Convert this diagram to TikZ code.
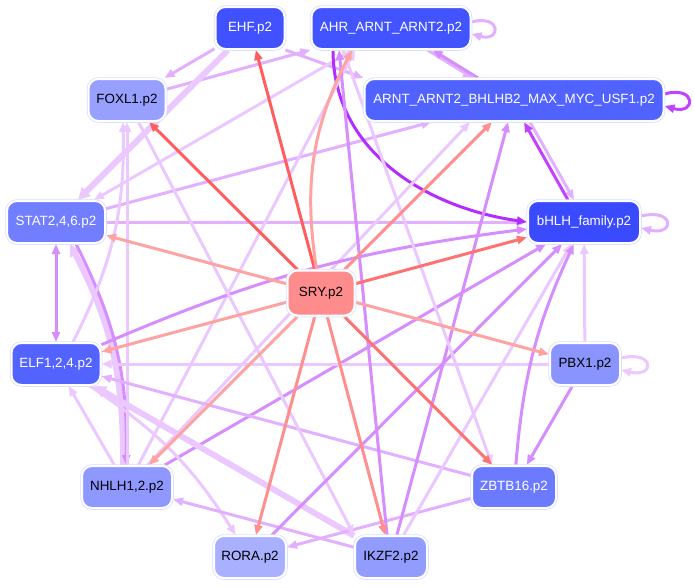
\documentclass[tikz,border=0pt]{standalone}
\usepackage{fontspec}
\setmainfont{Liberation Sans}
\usepackage{tikz}
\usetikzlibrary{arrows.meta}
\usetikzlibrary{backgrounds}

\definecolor{ringblue}{HTML}{D8DCFF}
\definecolor{ehfc}{HTML}{4151FF}
\definecolor{ahrc}{HTML}{4254FF}
\definecolor{arntc}{HTML}{5062FF}
\definecolor{bhlhc}{HTML}{3A4AFF}
\definecolor{foxc}{HTML}{98A0FF}
\definecolor{statc}{HTML}{707EFF}
\definecolor{elfc}{HTML}{5263FF}
\definecolor{pbxc}{HTML}{8A94FF}
\definecolor{nhlhc}{HTML}{8E98FF}
\definecolor{zbtbc}{HTML}{6C7AFF}
\definecolor{rorac}{HTML}{A8B0FF}
\definecolor{ikzfc}{HTML}{929CFF}
\definecolor{sryc}{HTML}{FF8C8C}
\definecolor{rA}{HTML}{FF5E5E}
\definecolor{rB}{HTML}{FF7272}
\definecolor{rC}{HTML}{FF8E8E}
\definecolor{rD}{HTML}{FFA2A2}
\definecolor{pdark}{HTML}{B22EFF}
\definecolor{pdeep}{HTML}{C044FF}
\definecolor{pmid}{HTML}{D68EFF}
\definecolor{plight}{HTML}{E2B0FF}
\definecolor{ppale}{HTML}{EBC8FF}

\begin{document}
\begin{tikzpicture}[x=1pt, y=1pt,
        >={Triangle[length=10pt,width=8pt]},
        tf/.style={rounded corners=10pt, draw=white, line width=2pt,
            preaction={draw=ringblue, line width=3.5pt},
            minimum height=42pt, inner sep=2pt, font=\fontsize{13.4}{15}\selectfont},
        tfw/.style={tf, text=white},
        ed/.style={line width=3pt, ->},
        fat/.style={line width=6pt, -{Triangle[length=12pt,width=12pt]}}]
        \useasboundingbox (0,0) rectangle (694,-587);

        % Draw the factors
        \node[tfw, fill=ehfc, minimum width=69pt] (ehf) at (250,-28) {EHF.p2};
        \node[tfw, fill=ahrc, minimum width=159pt] (ahr) at (391,-28) {AHR\_ARNT\_ARNT2.p2};
        \node[tf, fill=foxc, minimum width=77pt] (foxl) at (127,-100) {FOXL1.p2};
        \node[tfw, fill=arntc, minimum width=299pt] (arnt) at (514,-100) {ARNT\_ARNT2\_BHLHB2\_MAX\_MYC\_USF1.p2};
        \node[tfw, fill=statc, minimum width=98pt] (stat) at (56,-222) {STAT2,4,6.p2};
        \node[tfw, fill=bhlhc, minimum width=112pt] (bhlh) at (584,-222) {bHLH\_family.p2};
        \node[tf, fill=sryc, minimum width=67pt, minimum height=45pt] (sry) at (321,-293) {SRY.p2};
        \node[tfw, fill=elfc, minimum width=89pt] (elf) at (56,-364) {ELF1,2,4.p2};
        \node[tf, fill=pbxc, minimum width=70pt] (pbx) at (585,-364) {PBX1.p2};
        \node[tf, fill=nhlhc, minimum width=90pt] (nhlh) at (127,-487) {NHLH1,2.p2};
        \node[tfw, fill=zbtbc, minimum width=84pt] (zbtb) at (514,-487) {ZBTB16.p2};
        \node[tf, fill=rorac, minimum width=72pt] (rora) at (250,-557) {RORA.p2};
        \node[tf, fill=ikzfc, minimum width=72pt] (ikzf) at (391,-557) {IKZF2.p2};

        \begin{scope}[on background layer]
        % Draw the purple links
        \draw[ed, plight] (ehf) -- (foxl);
        \draw[ed, plight] (foxl) -- (ahr);
        \draw[ed, plight] (ehf.south east) -- (arnt.north west);
        \draw[fat, ppale] (ehf) -- (stat);
        \draw[ed, ppale] (ahr) -- (stat);
        \draw[ed, plight] (stat) -- (arnt);
        \draw[ed, plight] (stat) -- (bhlh);
        \draw[ed, plight] ([xshift=-44pt]ahr.south east) -- ([xshift=-41pt]arnt.north);
        \draw[ed, pmid] ([xshift=-36pt]arnt.north) -- ([xshift=-39pt]ahr.south east);
        \draw[ed, plight] ([xshift=16pt]arnt.south) -- ([xshift=-10pt]bhlh.north);
        \draw[ed, pdeep] ([xshift=-16pt]bhlh.north) -- ([xshift=10pt]arnt.south);
        \draw[ed, pdark] ([xshift=-58pt]ahr.south) to[out=-90, in=172] (bhlh.west);
        \draw[ed, pmid, <->] (stat) -- (elf);
        \draw[fat, ppale] ([xshift=-4pt]nhlh.north) to[bend right=14] ([xshift=14pt]stat.south);
        \draw[ed, pmid] ([xshift=20pt]stat.south) to[bend left=14] ([xshift=-1pt]nhlh.north);
        \draw[ed, ppale] ([xshift=17pt]elf.north) to[bend right=14] ([xshift=-4pt]foxl.south);
        \draw[ed, ppale] (nhlh) -- (foxl);
        \draw[ed, ppale] (nhlh) -- (elf);
        \draw[ed, ppale] (nhlh) -- ([xshift=-36pt]ahr.south);
        \draw[ed, ppale] (nhlh) -- ([xshift=-44pt]arnt.south);
        \draw[ed, pmid] (nhlh) -- (bhlh);
        \draw[ed, pmid] (elf) to[bend left=8] (bhlh);
        \draw[ed, ppale] (pbx) -- (elf);
        \draw[ed, plight] (zbtb) -- (elf);
        \draw[fat, ppale] (ikzf) -- (elf);
        \draw[ed, ppale] (elf) to[bend left=12] (rora);
        \draw[ed, plight] (ikzf) -- (nhlh);
        \draw[ed, plight] (zbtb) -- (rora);
        \draw[ed, ppale] (foxl) -- (ikzf.north west);
        \draw[ed, pmid] ([xshift=-4pt]ikzf.north) -- ([xshift=-52pt]ahr.south);
        \draw[ed, pmid] (ikzf) -- (arnt);
        \draw[ed, ppale] (ikzf) -- (bhlh);
        \draw[ed, pmid] (rora) -- (bhlh);
        \draw[ed, ppale] ([xshift=-48pt]ahr.south) -- ([xshift=-22pt]zbtb.north);
        \draw[ed, pmid] (zbtb) to[bend left=10] (bhlh);
        \draw[ed, ppale] (pbx) -- (bhlh);
        \draw[ed, pmid] (pbx) -- (zbtb);

        % Self loops
        \draw[ed, plight] ([yshift=6pt]ahr.east) .. controls +(30,8) and +(30,-8) .. ([yshift=-6pt]ahr.east);
        \draw[ed, pdeep] ([yshift=6pt]arnt.east) .. controls +(32,9) and +(32,-9) .. ([yshift=-6pt]arnt.east);
        \draw[ed, plight] ([yshift=6pt]bhlh.east) .. controls +(34,8) and +(34,-8) .. ([yshift=-6pt]bhlh.east);
        \draw[ed, ppale] ([yshift=6pt]pbx.east) .. controls +(34,8) and +(34,-8) .. ([yshift=-6pt]pbx.east);

        % Draw the SRY links
        \draw[ed, rA] (sry) -- (ehf);
        \draw[ed, rA] (sry) -- (foxl);
        \draw[ed, rD] (sry) to[bend left=18] ([xshift=-39pt]ahr.south);
        \draw[ed, rC] (sry) -- (arnt);
        \draw[ed, rB] (sry) -- (bhlh);
        \draw[ed, rD] (sry) -- (stat);
        \draw[ed, rD] (sry) -- (elf);
        \draw[ed, rD] (sry) -- (pbx);
        \draw[ed, rD] (sry) -- (nhlh);
        \draw[ed, rB] (sry) -- (zbtb);
        \draw[ed, rC] (sry) -- (rora);
        \draw[ed, rC] (sry) -- (ikzf);
        \end{scope}
    \end{tikzpicture}
\end{document}
